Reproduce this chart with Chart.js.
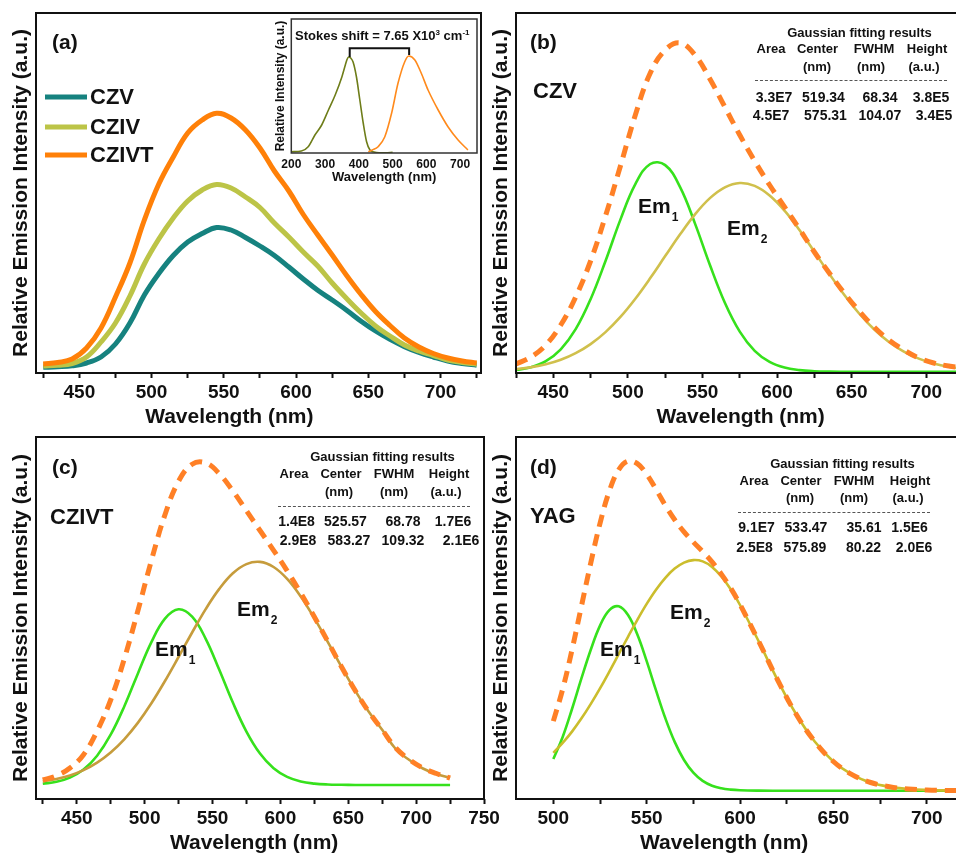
<!DOCTYPE html>
<html><head><meta charset="utf-8">
<script src="https://cdn.jsdelivr.net/npm/chart.js@4.4.1/dist/chart.umd.min.js"></script>
<style>
html,body{margin:0;padding:0;background:#fff;}
#wrap{position:relative;width:956px;height:854px;overflow:hidden;background:#fff;}
canvas{position:absolute;}
.t{position:absolute;font-family:'Liberation Sans',Arial,Helvetica,sans-serif;font-weight:bold;color:#111;white-space:nowrap;line-height:1;}
.c{transform:translate(-50%,-50%);}
.l{transform:translateY(-50%);}
.sub{font-size:12px;position:relative;top:8px;margin-left:1px;}
.sup{font-size:8px;position:relative;top:-5px;}
.rule{position:absolute;border-top:1px dashed #555;height:0;}
.leg{position:absolute;height:5px;transform:translateY(-50%);}
</style></head><body><div id="wrap">
<canvas id="cA" width="490" height="434" style="left:0px;top:0px"></canvas>
<canvas id="cB" width="500" height="434" style="left:480px;top:0px"></canvas>
<canvas id="cC" width="510" height="440" style="left:0px;top:420px"></canvas>
<canvas id="cD" width="510" height="440" style="left:480px;top:420px"></canvas>
<canvas id="cI" width="215" height="172" style="left:270px;top:15px"></canvas>
</div>
<script>
// ---------------- DATA ----------------
// Panel (a): measured emission spectra (relative intensity)
const wavelengthA = [425,435,445,455,465,475,485,495,505,515,525,535,545,555,565,575,585,595,605,615,625,635,645,655,665,675,685,695,705,715,725];
const czv   = [5.7,6.2,7.2,10,16,29,50,78,99.5,117.5,131,139.5,145.5,143,135.5,127,117.5,106,94,82.7,73,62.8,51.8,42,33.6,26.4,20.6,16,12,9.5,7.8];
const cziv  = [7,7.8,9.5,16,31,50,77,109,134,155,172,183,188.5,185,176,165.5,150,136,121,107,90,74.5,60,47,37,28,22,17.5,13,10.5,8.8];
const czivt = [9,10.5,14,25,45,76,110,153,189,216,240,253,259.7,255,243,225,202,182,158.5,138,118,97.5,78.5,61.5,47.5,35,26,19.5,15,12,10];

// Inset: excitation and emission
const excX = [200,230,250,270,290,310,330,350,360,365,370,376,383,393,403,413,423,433,445,460,480,500];
const excY = [1.3,2,6.3,18,28,43,58,76.3,88,93.5,96,95,91,76,53,30,11.3,3,1,0.3,0.3,0.7];
const emX  = [428,440,457,477,497,516,536,548,566,585,605,635,664,694,723];
const emY  = [1.3,3,6.3,16.3,39.7,69.7,91.3,97,93,79.7,63,43,26.3,13,3];

// Panels (b),(c): common wavelength grid
const wavelengthBC = [425,435,445,455,465,475,485,495,505,515,525,535,545,555,565,575,585,595,605,615,625,635,645,655,665,675,685,695,705,715,725];
const czvMeasured = [9,16,28,48,76,112,157,207,258,300,323,330,318,294,266,238,212,188,166,144,121,100,80,62,46,33,23,15,10,7,5];
const czvEm1 = [3.0,5.8,11.9,23.7,43.8,73.8,112,153.4,188.9,209,207.9,185.9,149.4,108,70.3,41.4,22.2,11.1,5.4,2.9,1.8,1.4,1.3,1.3,1.3,1.3,1.3,1.3,1.3,1.3,1.3];
const czvEm2 = [3.9,5.8,8.7,13.2,19.8,28.9,40.9,56.1,74.3,94.9,116.9,138.7,158.7,174.9,185.7,190,187.1,177.5,162.3,143,121.3,99.2,78.2,59.5,43.7,31,21.4,14.4,9.5,6.2,4.2];

const czivtMeasured = [19,23.2,31,44.3,68,99,140,188,238.5,284.3,317.7,334.8,336.1,325.3,308.1,288.3,268.5,248.7,228.2,206,182.2,157.4,132.3,108.7,87.5,69.2,51,39.5,31,25.5,21];
const czivtEm1 = [15.3,17.2,21.4,29.4,43.3,64.3,92.5,125.3,156.8,180.3,189.7,182.3,160.2,129.2,96.4,67.4,45.4,30.7,22.1,17.5,15.4,14.5,14.2,14,14,14,14,14,14,14,14];
const czivtEm2 = [17.6,20,23.6,28.9,36.4,46.5,59.7,76.1,95.7,118,142,166.5,189.9,210.1,225.7,234.9,237.1,232,220.1,202.5,180.8,156.9,132.3,108.7,87.5,69.2,50,39,30.5,25,21];

// Panel (d): YAG
const wavelengthD = [500,505,510,515,520,525,530,535,540,545,550,555,560,565,570,575,580,585,590,595,600,610,620,630,640,650,660,670,680,690,700,710,720,730];
const yagMeasured = [77.9,109.8,149.1,192.4,235.6,275.7,308,329.2,337.9,335.4,324.7,309.6,293.6,279.2,267.1,256.9,247.4,237.1,224.9,210.8,194.5,157.7,119.5,85,57.5,37.5,24.4,16.5,12.2,10,9,8.6,8.4,8.3];
const yagEm1 = [40,62,90,120.3,149,173.4,188.9,192.7,184,164.5,137.9,108.6,80.7,57.1,39,26.3,18.1,13.3,10.7,9.4,8.8,8.4,8.3,8.3,8.3,8.3,8.3,8.3,8.3,8.3,8.3,8.3,8.3,8.3];
const yagEm2 = [46.2,56.1,67.4,80.4,94.9,110.6,127.4,144.8,162.2,179.2,195.1,209.3,221.2,230.4,236.4,238.9,237.6,232.1,222.5,209.7,194,157.6,119.4,85,57.5,37.5,24.4,16.5,12.2,10,9,8.6,8.4,8.3];

// Legend / text content
const seriesNamesA = ['CZV','CZIV','CZIVT'];
const fitHeader = ['Area','Center','FWHM','Height'];
const fitUnits  = ['','(nm)','(nm)','(a.u.)'];
const fitB = [['3.3E7','519.34','68.34','3.8E5'],['4.5E7','575.31','104.07','3.4E5']];
const fitC = [['1.4E8','525.57','68.78','1.7E6'],['2.9E8','583.27','109.32','2.1E6']];
const fitD = [['9.1E7','533.47','35.61','1.5E6'],['2.5E8','575.89','80.22','2.0E6']];

// ---------------- STYLE ----------------
const FONT = "'Liberation Sans', Arial, Helvetica, sans-serif";
const INK = '#111111';
const COL = {czv:'#16827f', cziv:'#bcc447', czivt:'#ff8008', dash:'#ff8026', green:'#36e11c',
             em2b:'#d0c04c', em2c:'#c69c3c', em2d:'#cbbd2c', exc:'#6e7d19', emi:'#ff8a1c'};
const NB = '\u00a0';

function pts(xs, ys){ return xs.map((x,i)=>({x:x, y:ys[i]})); }

const framePlugin = {
  id:'frame',
  afterDraw(chart, args, o){
    const {ctx, chartArea:a} = chart;
    ctx.save(); ctx.strokeStyle = o.color || INK; ctx.lineWidth = o.width || 2;
    ctx.strokeRect(a.left, a.top, a.right-a.left, a.bottom-a.top); ctx.restore();
  }
};
const bracketPlugin = {
  id:'bracket',
  afterDatasetsDraw(chart, args, o){
    const x = chart.scales.x, y = chart.scales.y, ctx = chart.ctx;
    ctx.save(); ctx.strokeStyle = INK; ctx.lineWidth = 2; ctx.beginPath();
    ctx.moveTo(x.getPixelForValue(o.x1), y.getPixelForValue(o.y1));
    ctx.lineTo(x.getPixelForValue(o.x1), y.getPixelForValue(o.top));
    ctx.lineTo(x.getPixelForValue(o.x2), y.getPixelForValue(o.top));
    ctx.lineTo(x.getPixelForValue(o.x2), y.getPixelForValue(o.y2));
    ctx.stroke(); ctx.restore();
  }
};

function makePanel(id, cfg){
  return new Chart(document.getElementById(id), {
    type:'line',
    data:{datasets: cfg.datasets},
    options:{
      responsive:false, animation:false, devicePixelRatio:1, events:[],
      layout:{padding: cfg.padding},
      plugins:{legend:{display:false}, tooltip:{enabled:false}, frame:{width:2}},
      elements:{point:{radius:0}, line:{tension:0.4}},
      scales:{
        x:{type:'linear', min:cfg.xmin, max:cfg.xmax,
          afterFit:s=>{ s.height = 61; },
          border:{display:false},
          grid:{display:true, drawOnChartArea:false, drawTicks:true, tickLength:5, tickWidth:2, tickColor:INK},
          ticks:{stepSize:25, includeBounds:false, autoSkip:false, maxRotation:0, minRotation:0, padding:3.6, color:INK,
            font:{family:FONT, size:19, weight:'bold'}, callback:v=>(v % 50 === 0 ? String(v) : '')},
          title:{display:true, text:cfg.xTitle, color:INK, font:{family:FONT, size:21, weight:'bold'}, padding:{top:0, bottom:4.4}}
        },
        y:{min:0, max:cfg.ymax,
          afterFit:s=>{ s.width = 36; },
          border:{display:false}, grid:{display:false}, ticks:{display:false},
          title:{display:true, text:'Relative Emission Intensity (a.u.)', color:INK, font:{family:FONT, size:21, weight:'bold'}, padding:{top:9, bottom:0}}
        }
      }
    },
    plugins:[framePlugin]
  });
}

const dashed = (xs, ys) => ({data:pts(xs,ys), borderColor:COL.dash, borderWidth:5, borderDash:[12,8], order:0});
const solid  = (xs, ys, c, w, ord) => ({data:pts(xs,ys), borderColor:c, borderWidth:w, order:ord});

makePanel('cA', {padding:{left:0,top:13,right:9,bottom:0}, xmin:420, xmax:728, ymax:360,
  xTitle:'Wavelength (nm)' + NB.repeat(10),
  datasets:[solid(wavelengthA, czv, COL.czv, 5, 3), solid(wavelengthA, cziv, COL.cziv, 5, 2), solid(wavelengthA, czivt, COL.czivt, 5, 1)]});

makePanel('cB', {padding:{left:0,top:13,right:9,bottom:0}, xmin:425, xmax:730, ymax:360,
  xTitle:'Wavelength (nm)' + NB,
  datasets:[dashed(wavelengthBC, czvMeasured), solid(wavelengthBC, czvEm1, COL.green, 2.6, 2), solid(wavelengthBC, czvEm2, COL.em2b, 2.6, 1)]});

makePanel('cC', {padding:{left:0,top:17,right:26,bottom:0}, xmin:420, xmax:750, ymax:362,
  xTitle:'Wavelength (nm)' + NB.repeat(2),
  datasets:[dashed(wavelengthBC, czivtMeasured), solid(wavelengthBC, czivtEm1, COL.green, 2.6, 2), solid(wavelengthBC, czivtEm2, COL.em2c, 2.6, 1)]});

makePanel('cD', {padding:{left:0,top:17,right:11,bottom:0}, xmin:480, xmax:728, ymax:362,
  xTitle:'Wavelength (nm)' + NB.repeat(8),
  datasets:[dashed(wavelengthD, yagMeasured), solid(wavelengthD, yagEm1, COL.green, 2.6, 2), solid(wavelengthD, yagEm2, COL.em2d, 2.6, 1)]});

// Inset
new Chart(document.getElementById('cI'), {
  type:'line',
  data:{datasets:[solid(excX, excY, COL.exc, 1.6, 1), solid(emX, emY, COL.emi, 1.6, 0)]},
  options:{
    responsive:false, animation:false, devicePixelRatio:1, events:[],
    layout:{padding:{left:0, top:4, right:8, bottom:0}},
    plugins:{legend:{display:false}, tooltip:{enabled:false}, frame:{width:1.5, color:'#333'},
      bracket:{x1:373, y1:96, x2:549, y2:98, top:104.7}},
    elements:{point:{radius:0}, line:{cubicInterpolationMode:'monotone'}},
    scales:{
      x:{type:'linear', min:200, max:750, afterFit:s=>{ s.height = 34; },
        border:{display:false}, grid:{display:false, drawTicks:false},
        ticks:{stepSize:100, includeBounds:false, autoSkip:false, maxRotation:0, padding:4.8, color:INK, font:{family:FONT, size:12, weight:'bold'}},
        title:{display:true, text:'Wavelength (nm)', color:INK, font:{family:FONT, size:13, weight:'bold'}, padding:{top:0, bottom:2.2}}},
      y:{min:0, max:134, afterFit:s=>{ s.width = 21.3; },
        border:{display:false}, grid:{display:false}, ticks:{display:false},
        title:{display:true, text:'Relative Intensity (a.u.)', color:INK, font:{family:FONT, size:12, weight:'bold'}, padding:{top:3.8, bottom:0}}}
    }
  },
  plugins:[framePlugin, bracketPlugin]
});

// ---------------- TEXT OVERLAYS ----------------
const wrap = document.getElementById('wrap');
function addText(html, x, y, size, anchor){
  const d = document.createElement('div');
  d.className = 't ' + (anchor === 'l' ? 'l' : 'c');
  d.style.left = x + 'px'; d.style.top = y + 'px'; d.style.fontSize = size + 'px';
  d.innerHTML = html; wrap.appendChild(d); return d;
}
// panel letters
[['(a)',52,41],['(b)',530,41],['(c)',52,466],['(d)',530,466]].forEach(p=>addText(p[0],p[1],p[2],21,'l'));
// sample names
[['CZV',533,91],['CZIVT',50,517],['YAG',530,516]].forEach(p=>addText(p[0],p[1],p[2],22,'l'));
// Em labels
[['1',638,205],['2',727,227],['1',155,648],['2',237,608],['1',600,648],['2',670,611]].forEach(p=>
  addText('Em<span class="sub">'+p[0]+'</span>', p[1], p[2], 21, 'l'));
// legend (a)
const legColors = [COL.czv, COL.cziv, COL.czivt];
[97,126.5,155].forEach((y,i)=>{
  const ln = document.createElement('div'); ln.className='leg';
  ln.style.left='45px'; ln.style.top=y+'px'; ln.style.width='42px'; ln.style.background=legColors[i];
  wrap.appendChild(ln);
  addText(seriesNamesA[i], 90, y, 22, 'l');
});
// Stokes shift
addText('Stokes shift = 7.65 X10<span class="sup">3</span> cm<span class="sup">-1</span>', 295, 35, 13, 'l');

// fitting tables
function addTable(rows, L){
  addText('Gaussian fitting results', L.titleX, L.y[0], 13, 'c');
  fitHeader.forEach((h,i)=>addText(h, L.head[i], L.y[1], 13, 'c'));
  fitUnits.forEach((h,i)=>{ if(h) addText(h, L.units[i], L.y[2], 13, 'c'); });
  const r = document.createElement('div'); r.className='rule';
  r.style.left=L.rule[0]+'px'; r.style.width=(L.rule[1]-L.rule[0])+'px'; r.style.top=L.y[3]+'px';
  wrap.appendChild(r);
  rows[0].forEach((v,i)=>addText(v, L.r1[i], L.y[4], 14, 'c'));
  rows[1].forEach((v,i)=>addText(v, L.r2[i], L.y[5], 14, 'c'));
}
addTable(fitB, {titleX:859.5, y:[31.7,48.3,65.7,80,96.7,115], head:[771,817.5,874,927], units:[0,817,871,924],
  rule:[755,947], r1:[774,823.5,880,931], r2:[771,825.5,880,934]});
addTable(fitC, {titleX:382.5, y:[456,473.3,491,505.7,520.7,540], head:[294,341,394,449], units:[0,339,394,446],
  rule:[278,470], r1:[296.5,345.5,403,453], r2:[298,349,403,461]});
addTable(fitD, {titleX:842.5, y:[462.7,480,497.3,512.3,527.3,546.7], head:[754,801,854,910], units:[0,800,854,908],
  rule:[738,930], r1:[756.5,806,864,909.5], r2:[754.5,805,863.5,914]});
</script></body></html>
